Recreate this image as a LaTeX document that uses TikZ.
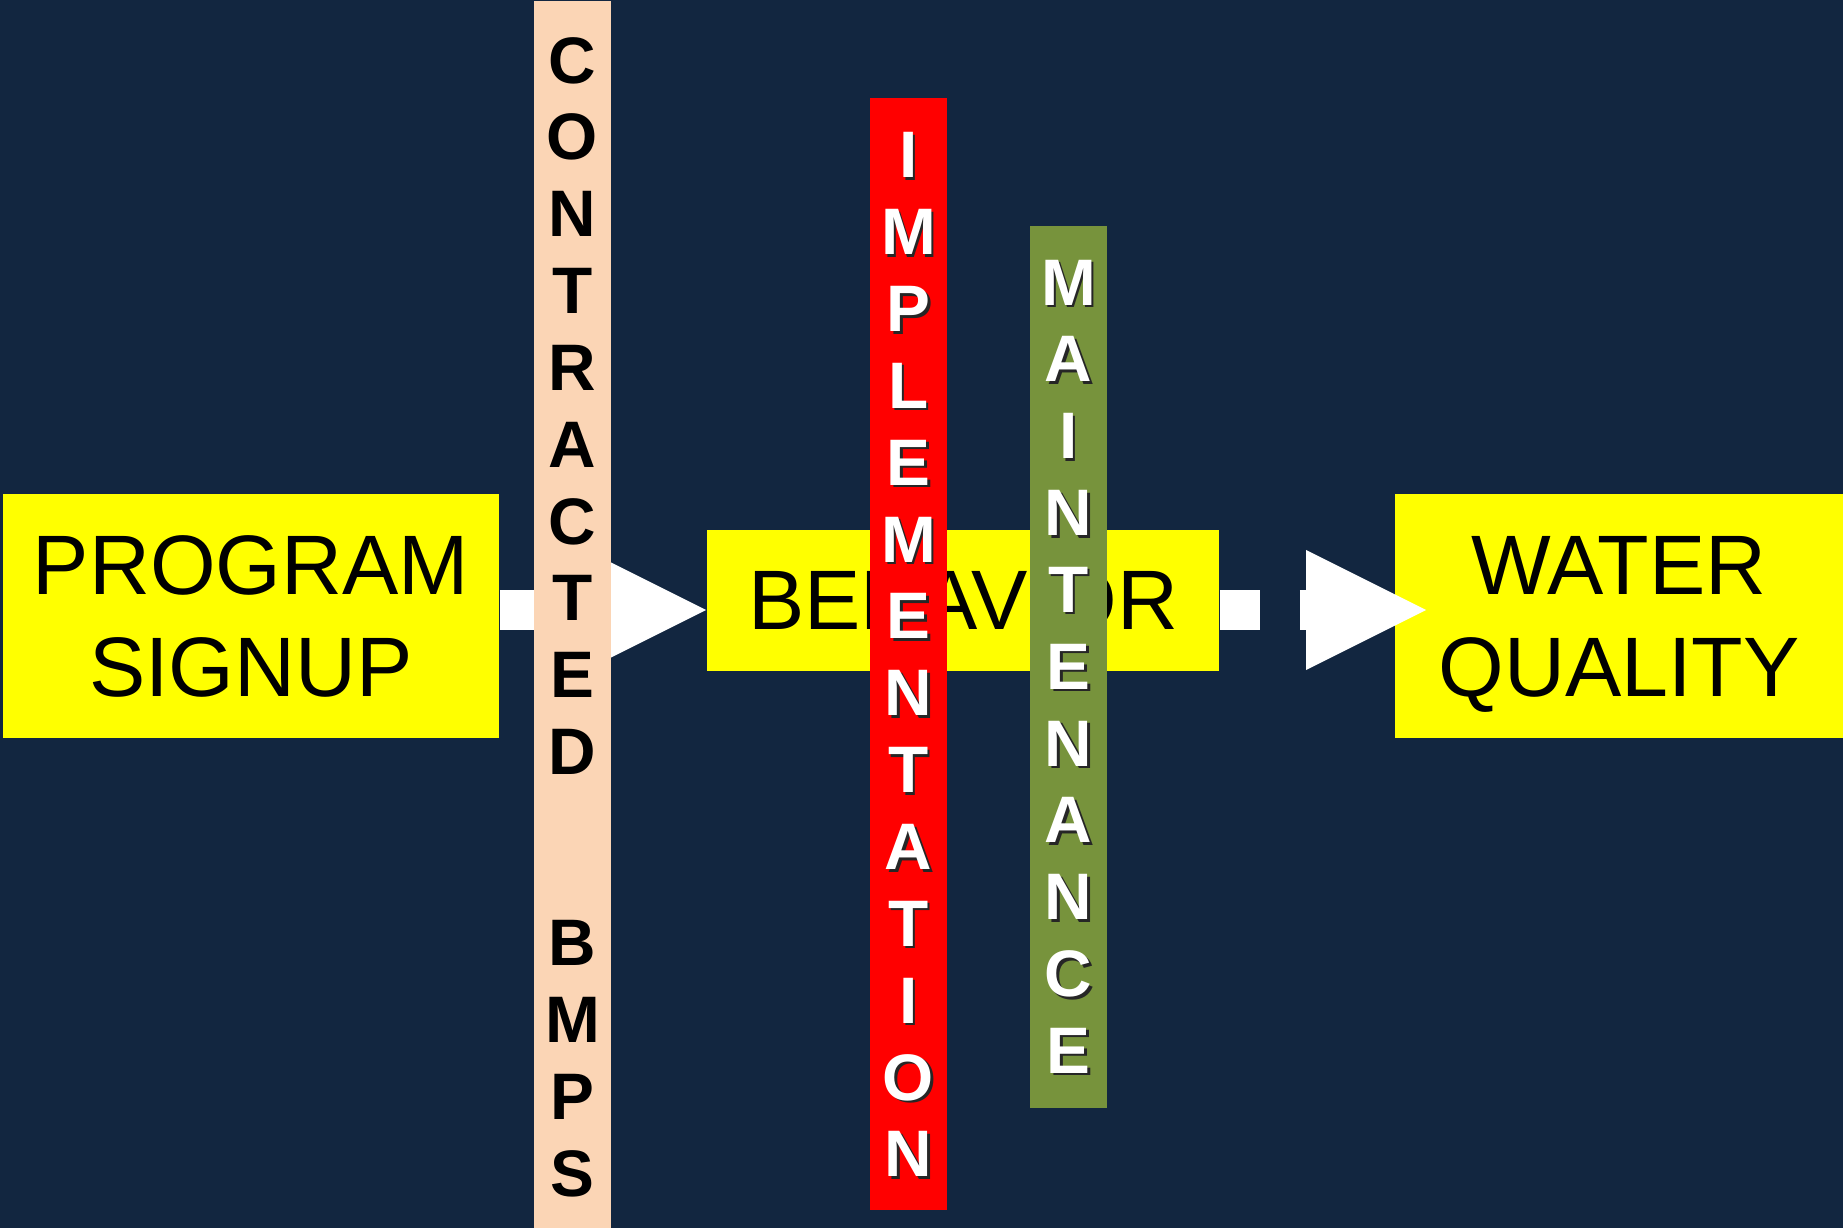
\documentclass[tikz,border=0pt]{standalone}
\usepackage{fontspec}
\setmainfont{Liberation Sans}
\usepackage{tikz}
\usetikzlibrary{arrows.meta}

\definecolor{navy}{RGB}{18,38,64}
\definecolor{boxyellow}{RGB}{255,255,0}
\definecolor{peach}{RGB}{251,213,181}
\definecolor{olive}{RGB}{119,147,60}
\definecolor{barred}{RGB}{255,0,0}

\tikzset{
  box/.style={fill=boxyellow, inner sep=0pt, text depth=0pt, align=center, font=\fontsize{24}{29}\selectfont},
  bar/.style={inner sep=0pt, minimum width=0.77cm},
  letters/.style={anchor=north, inner sep=0pt, align=center, font=\bfseries\fontsize{18.7}{21.85}\selectfont},
  blockarrow/.style={white, line width=0.4cm, -{Triangle[length=1.2cm, width=1.2cm, line width=0pt]}}
}

\newcommand{\impltext}{I\\M\\P\\L\\E\\M\\E\\N\\T\\A\\T\\I\\O\\N}
\newcommand{\mainttext}{M\\A\\I\\N\\T\\E\\N\\A\\N\\C\\E}

\begin{document}
\begin{tikzpicture}[x=0.01cm, y=-0.01cm]
         \fill[navy] (0,0) rectangle (1843,1228);
         \useasboundingbox (0,0) rectangle (1843,1228);

         % the three stages
         \node[box, minimum width=4.96cm, minimum height=2.44cm] (signup) at (251,616) {PROGRAM\\SIGNUP};
         \node[box, minimum width=5.12cm, minimum height=1.41cm] (behavior) at (963,600.5) {BEHAVIOR};
         \node[box, minimum width=4.48cm, minimum height=2.44cm] (water) at (1619,616) {WATER\\QUALITY};

         % arrows between them
         \coordinate (arrowline) at (0,610);
         \coordinate (tip2) at ([xshift=0.32cm]water.west);
         \draw[blockarrow] (signup.east |- arrowline) -- (behavior.west |- arrowline);
         \draw[blockarrow, dash pattern=on 0.4cm off 0.4cm] (behavior.east |- arrowline) -- (tip2 |- arrowline);

         % vertical bars
         \node[bar, fill=peach, minimum height=12.39cm] (contracted) at (572.5,620.5) {};
         \node[letters, text=black] at ([yshift=-0.365cm]contracted.north) {C\\O\\N\\T\\R\\A\\C\\T\\E\\D\\[1.14cm]B\\M\\P\\S};

         \node[bar, fill=barred, minimum height=11.12cm] (impl) at (908.5,654) {};
         \node[letters, text=black!85] at ([xshift=0.025cm, yshift=-0.375cm]impl.north) {\impltext};
         \node[letters, text=white] at ([yshift=-0.35cm]impl.north) {\impltext};

         \node[bar, fill=olive, minimum height=8.82cm] (maint) at (1068.5,667) {};
         \node[letters, text=black!85] at ([xshift=0.025cm, yshift=-0.365cm]maint.north) {\mainttext};
         \node[letters, text=white] at ([yshift=-0.34cm]maint.north) {\mainttext};

    \end{tikzpicture}
\end{document}
